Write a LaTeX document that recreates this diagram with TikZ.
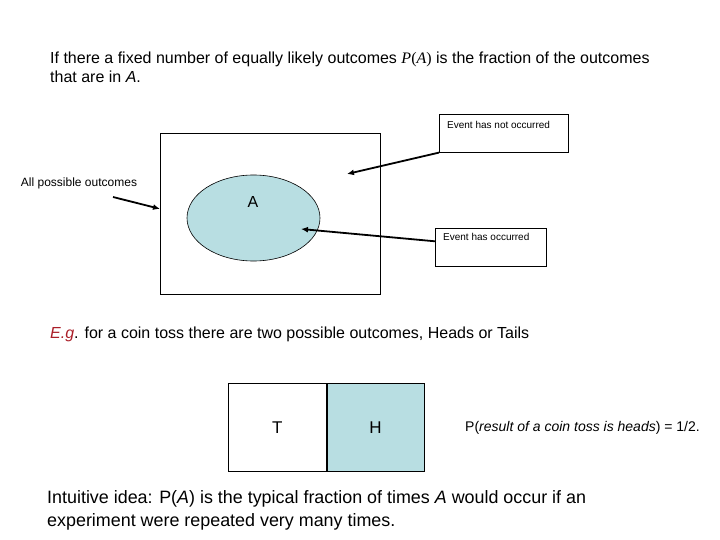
\documentclass[tikz,border=0pt]{standalone}
\usepackage{fontspec}
\setmainfont{Liberation Sans}
\newfontfamily\timesfont{Liberation Serif}
\usetikzlibrary{positioning, arrows.meta, shapes.geometric}
\definecolor{eventblue}{RGB}{184,222,226}
\definecolor{egred}{RGB}{170,30,40}

\begin{document}
\begin{tikzpicture}[
    x=1pt, y=-1pt,
    box/.style={
        draw,
        line width=0.7pt,
        inner sep=0
    },
    note/.style={
        draw,
        line width=0.6pt,
        minimum width=129pt,
        minimum height=38pt,
        anchor=north west
    },
    small/.style={
        font=\fontsize{10}{12}\selectfont,
        inner sep=0,
        anchor=north west
    },
    arrow/.style={
        -{Latex[length=7pt,width=6pt]},
        line width=1.8pt
    }
]
\useasboundingbox (0,0) rectangle (720,540);

% heading
\node[anchor=north west, align=left, inner sep=0, font=\fontsize{16}{19}\selectfont] (intro) at (50,52)
    {If there a fixed number of equally likely outcomes {\timesfont\itshape P}{\timesfont(\itshape A\upshape)} is the fraction of the outcomes\\
     that are in \textit{A}.};

% sample space and event
\node[box, minimum width=220pt, minimum height=161pt, anchor=north west] (space) at (160,133) {};
\node[ellipse, draw, line width=0.6pt, fill=eventblue, minimum width=133pt, minimum height=86pt] (evA) at (253.5,218) {};
\node[font=\fontsize{16}{18}\selectfont, inner sep=0] (labA) at (253,202) {A};

\node[small, anchor=center, font=\fontsize{12}{14}\selectfont] (allout) at (79,183) {All possible outcomes};
\coordinate (allstart) at (113,197);

\node[note] (notbox) at (439,114) {};
\node[small] (nottext) at ([shift={(8,7)}]notbox.north west) {Event has not occurred};
\coordinate (notend) at (347,174);

\node[note, minimum width=111pt] (occbox) at (435,228) {};
\node[small] (occtext) at ([shift={(8,5)}]occbox.north west) {Event has occurred};
\coordinate (occend) at (301,229);

\draw[arrow] (allstart) -- ([yshift=5pt]space.west);
\draw[arrow] (notbox.south west) -- (notend);
\draw[arrow] ([yshift=6pt]occbox.west) -- (occend);

% coin toss
\node[anchor=west, inner sep=0, font=\fontsize{16}{19}\selectfont] (example) at (50,334)
    {\textcolor{egred}{\textit{E.g}}. for a coin toss there are two possible outcomes, Heads or Tails};

\node[box, minimum width=98pt, minimum height=88pt, anchor=north west, font=\fontsize{17}{19}\selectfont] (tails) at (228,383) {T};
\node[box, fill=eventblue, minimum width=97pt, minimum height=88pt, right=0pt of tails, font=\fontsize{17}{19}\selectfont] (heads) {H};

\node[anchor=west, inner sep=0, font=\fontsize{14}{16}\selectfont] (prob) at (465,428)
    {P(\textit{result of a coin toss is heads}) = 1/2.};

% intuition
\node[anchor=north west, align=left, inner sep=0, font=\fontsize{17.9}{23}\selectfont] (idea) at (47,490)
    {Intuitive idea: P(\textit{A}) is the typical fraction of times \textit{A} would occur if an\\
     experiment were repeated very many times.};

\end{tikzpicture}
\end{document}
